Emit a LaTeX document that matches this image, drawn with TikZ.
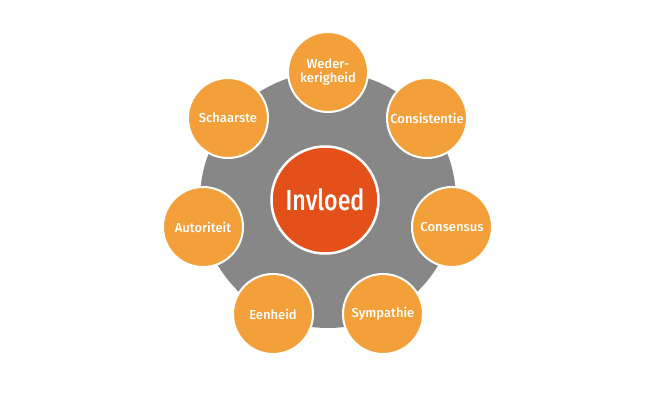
\documentclass[tikz,border=0pt]{standalone}
\usepackage{fontspec}
\setmainfont{Fira Sans}[UprightFont=* Medium]
\newfontfamily\condfont{Fira Sans}[UprightFont=* Medium,FakeStretch=0.8]
\definecolor{ringgray}{HTML}{878787}
\definecolor{petal}{HTML}{F4A03A}
\definecolor{core}{HTML}{E4501A}
\begin{document}
\begin{tikzpicture}[x=1pt,y=-1pt,
  petalnode/.style={circle,fill=petal,draw=white,line width=2pt,minimum size=80pt,inner sep=0pt,text=white,font=\fontsize{13}{14.5}\selectfont,align=center},
  corenode/.style={circle,fill=core,draw=white,line width=2.5pt,minimum size=107pt,inner sep=0pt,text=white,font=\condfont\fontsize{29}{30}\selectfont}]
\useasboundingbox (0,0) rectangle (665,400);
\node[circle,fill=ringgray,minimum size=256pt,inner sep=0pt] (ring) at (328,200) {};
\node[corenode] (core) at (325,200) {Invloed};
\node[petalnode] (p1) at (328,72) {Weder-\\kerigheid};
\node[petalnode] (p2) at (427,118) {Consistentie};
\node[petalnode] (p3) at (452,227) {Consensus};
\node[petalnode] (p4) at (383,314) {Sympathie};
\node[petalnode] (p5) at (273,314) {Eenheid};
\node[petalnode] (p6) at (203,227) {Autoriteit};
\node[petalnode] (p7) at (228,118) {Schaarste};
\end{tikzpicture}
\end{document}
